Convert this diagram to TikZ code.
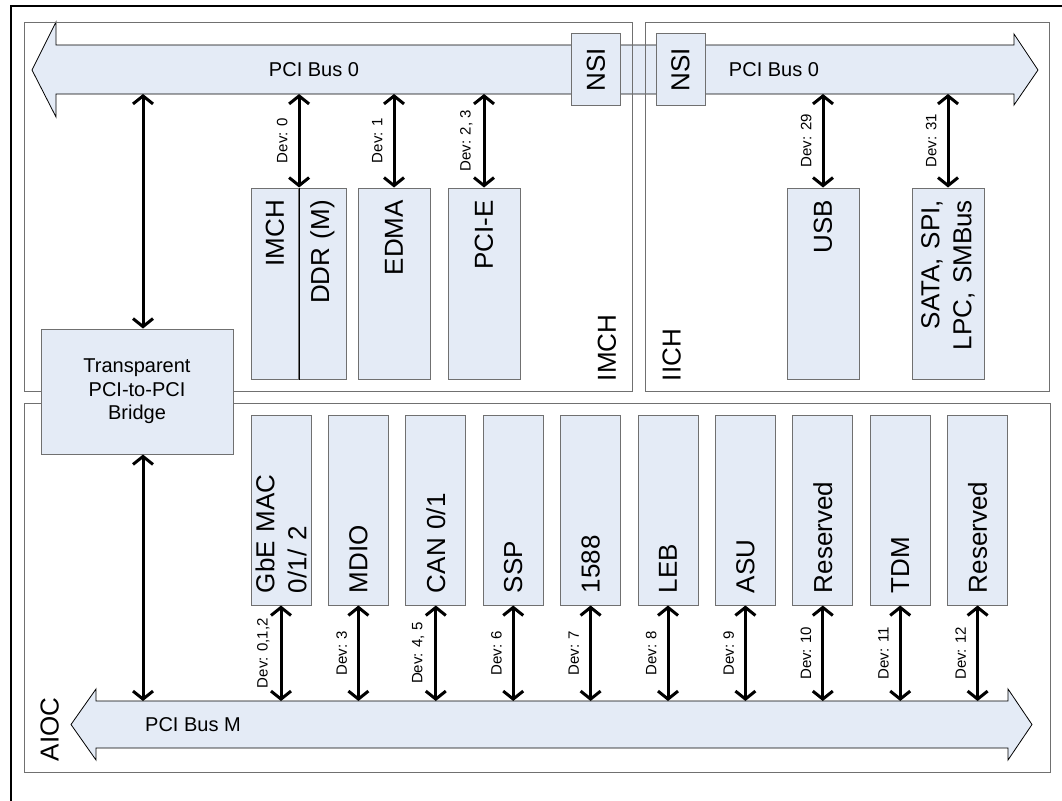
\documentclass[tikz,border=0pt]{standalone}
\usepackage{fontspec}
\setmainfont{Liberation Sans}
\usepackage{tikz}
\usetikzlibrary{arrows.meta}

\definecolor{busblue}{RGB}{228,235,246}
\definecolor{edgegray}{RGB}{112,112,112}

\newcommand{\bigtext}{\fontsize{26}{32}\selectfont}
\newcommand{\midtext}{\fontsize{20}{23.5}\selectfont}
\newcommand{\devtext}{\fontsize{15}{18}\selectfont}

\tikzset{
  panel/.style={draw=edgegray, line width=1.2pt, anchor=north west, inner sep=0pt},
  bus/.style={draw=black, line width=0.8pt, fill=busblue},
  devbox/.style={draw=edgegray, line width=1pt, fill=busblue, rotate=90, inner xsep=12pt, inner ysep=0pt, font=\bigtext},
  devlink/.style={{Straight Barb[length=8pt,width=20pt]}-{Straight Barb[length=8pt,width=20pt]}, line width=3pt},
  devlabel/.style={midway, rotate=90, anchor=south, inner sep=10pt, font=\devtext},
  panellabel/.style={rotate=90, anchor=south west, inner sep=0pt, font=\bigtext}
}

\begin{document}
\begin{tikzpicture}[x=1pt, y=-1pt]
    \useasboundingbox (0,0) rectangle (1062,800);
    \draw[line width=2.5pt] (11,802) -- (11,6) -- (1064,6);

    % buses
    \draw[bus] (32,70) -- (56,22) -- (56,45) -- (1014,45) -- (1014,34) -- (1038,70) -- (1014,105) -- (1014,94) -- (56,94) -- (56,117) -- cycle;
    \draw[bus] (71,724.5) -- (96,689) -- (96,701) -- (1008,701) -- (1008,689) -- (1032,724.5) -- (1008,760) -- (1008,748) -- (96,748) -- (96,760) -- cycle;
    \coordinate (bus0s) at (0,94);
    \coordinate (busMn) at (0,701);
    \node[font=\midtext] (bus0l) at (314,70) {PCI Bus 0};
    \node[font=\midtext] (bus0r) at (774,70) {PCI Bus 0};
    \node[font=\midtext] (busMl) at (193,724.5) {PCI Bus M};

    % panels
    \node[panel, minimum width=608, minimum height=369] (imchp) at (24,22) {};
    \node[panel, minimum width=404, minimum height=369] (iichp) at (645,22) {};
    \node[panel, minimum width=1026, minimum height=369] (aiocp) at (24,403) {};
    \node[panellabel] (imchl) at ([xshift=-17pt, yshift=11pt]imchp.south east) {IMCH};
    \node[panellabel] (iichl) at ([xshift=36pt, yshift=11pt]iichp.south west) {IICH};
    \node[panellabel] (aiocl) at ([xshift=35pt, yshift=12pt]aiocp.south west) {AIOC};

    % NSI
    \node[devbox, inner xsep=0pt, minimum width=71, minimum height=48.5] (nsia) at (596,69.5) {NSI};
    \node[devbox, inner xsep=0pt, minimum width=71, minimum height=49] (nsib) at (680.5,69.5) {NSI};

    % upper devices
    \node[devbox, text width=167, align=right, minimum height=47.6] (imch) at (274.8,283.5) {IMCH};
    \node[devbox, text width=167, align=right, minimum height=47.4] (ddr) at (322.3,283.5) {DDR (M)};
    \draw[line width=1pt] (imch.south east) -- (imch.south west);
    \node[devbox, text width=167, align=right, minimum height=72] (edma) at (394,283.5) {EDMA};
    \node[devbox, text width=167, align=right, minimum height=72] (pcie) at (484,283.5) {PCI-E};
    \node[devbox, text width=167, align=right, minimum height=72] (usb) at (823,283.5) {USB};
    \node[devbox, text width=167, align=right, minimum height=72] (sata) at (948,283.5) {SATA, SPI,\\LPC, SMBus};

    % lower devices
    \node[devbox, text width=166, align=left, minimum height=60] (gbe) at (281,510) {GbE MAC\\0/1/ 2};
    \node[devbox, text width=166, align=left, minimum height=60] (mdio) at (358.4,510) {MDIO};
    \node[devbox, text width=166, align=left, minimum height=60] (can) at (435.8,510) {CAN 0/1};
    \node[devbox, text width=166, align=left, minimum height=60] (ssp) at (513.2,510) {SSP};
    \node[devbox, text width=166, align=left, minimum height=60] (ieee) at (590.6,510) {1588};
    \node[devbox, text width=166, align=left, minimum height=60] (leb) at (668,510) {LEB};
    \node[devbox, text width=166, align=left, minimum height=60] (asu) at (745.4,510) {ASU};
    \node[devbox, text width=166, align=left, minimum height=60] (resa) at (822.8,510) {Reserved};
    \node[devbox, text width=166, align=left, minimum height=60] (tdm) at (900.2,510) {TDM};
    \node[devbox, text width=166, align=left, minimum height=60] (resb) at (977.6,510) {Reserved};

    % bridge
    \node[draw=edgegray, line width=1pt, fill=busblue, minimum width=192, minimum height=125, align=center, font=\midtext] (bridge) at (137,391.5) {Transparent\\PCI-to-PCI\\Bridge};
    \coordinate (brtop) at ([xshift=6pt]bridge.north);
    \coordinate (brbot) at ([xshift=6pt]bridge.south);
    \draw[devlink] (bus0s -| brtop) -- (brtop);
    \draw[devlink] (brbot) -- (brbot |- busMn);

    % links
    \draw[devlink] (bus0s -| imch.south east) -- (imch.south east) node[devlabel] (d0) {Dev: 0};
    \draw[devlink] (bus0s -| edma.east) -- (edma.east) node[devlabel] (d1) {Dev: 1};
    \draw[devlink] (bus0s -| pcie.east) -- (pcie.east) node[devlabel] (d23) {Dev: 2, 3};
    \draw[devlink] (bus0s -| usb.east) -- (usb.east) node[devlabel] (d29) {Dev: 29};
    \draw[devlink] (bus0s -| sata.east) -- (sata.east) node[devlabel] (d31) {Dev: 31};
    \draw[devlink] (gbe.west) -- (gbe.west |- busMn) node[devlabel] (m012) {Dev: 0,1,2};
    \draw[devlink] (mdio.west) -- (mdio.west |- busMn) node[devlabel] (m3) {Dev: 3};
    \draw[devlink] (can.west) -- (can.west |- busMn) node[devlabel] (m45) {Dev: 4, 5};
    \draw[devlink] (ssp.west) -- (ssp.west |- busMn) node[devlabel] (m6) {Dev: 6};
    \draw[devlink] (ieee.west) -- (ieee.west |- busMn) node[devlabel] (m7) {Dev: 7};
    \draw[devlink] (leb.west) -- (leb.west |- busMn) node[devlabel] (m8) {Dev: 8};
    \draw[devlink] (asu.west) -- (asu.west |- busMn) node[devlabel] (m9) {Dev: 9};
    \draw[devlink] (resa.west) -- (resa.west |- busMn) node[devlabel] (m10) {Dev: 10};
    \draw[devlink] (tdm.west) -- (tdm.west |- busMn) node[devlabel] (m11) {Dev: 11};
    \draw[devlink] (resb.west) -- (resb.west |- busMn) node[devlabel] (m12) {Dev: 12};
\end{tikzpicture}
\end{document}
